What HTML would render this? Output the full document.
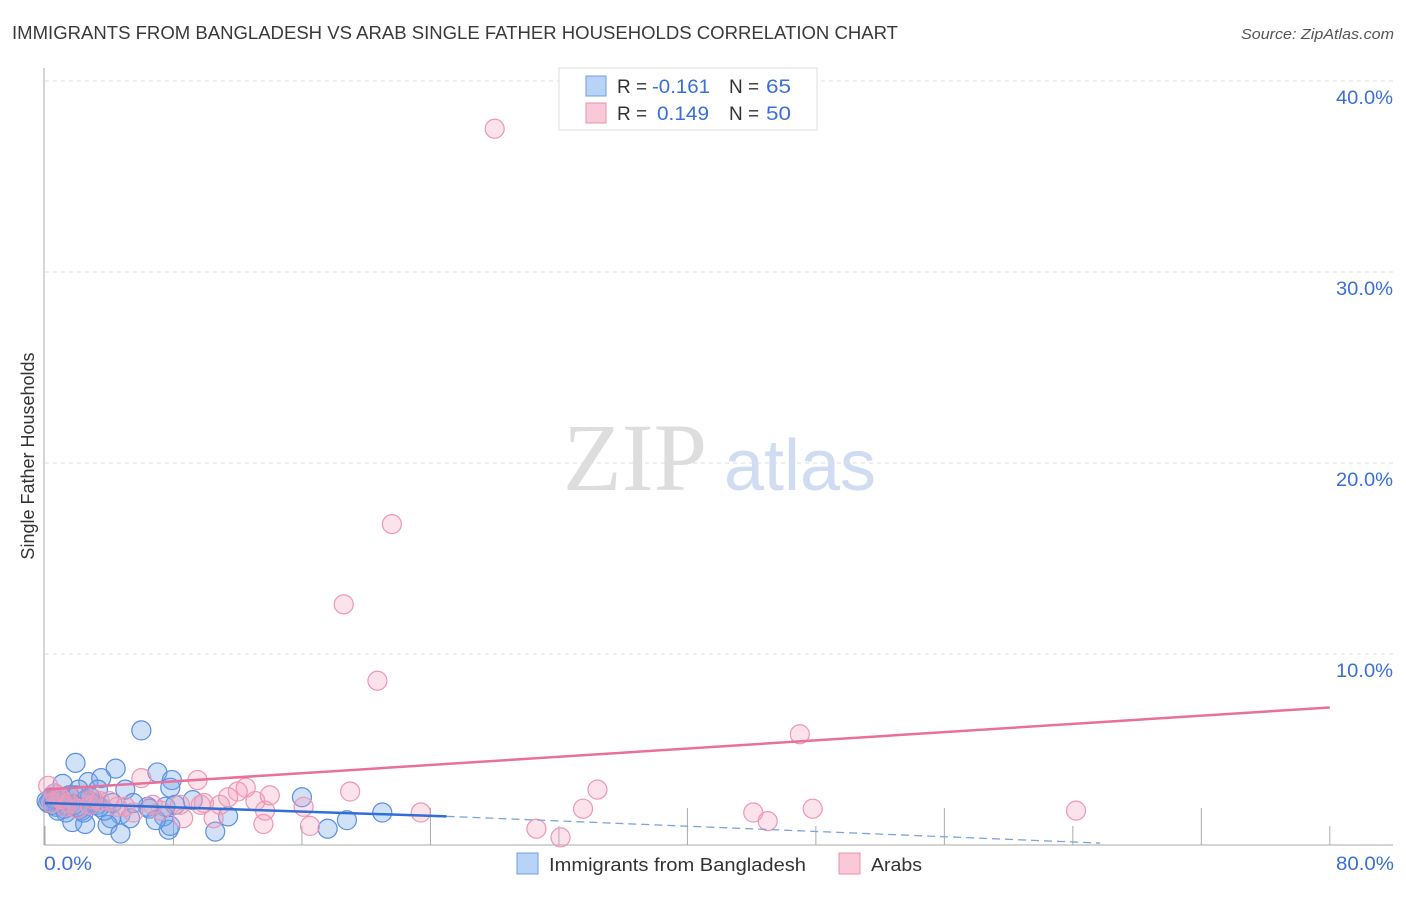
<!DOCTYPE html>
<html><head><meta charset="utf-8"><style>
body{margin:0;background:#fff;font-family:"Liberation Sans",sans-serif}
</style></head><body>
<svg width="1406" height="892" xmlns="http://www.w3.org/2000/svg" id="chart">
<text x="12" y="39" font-size="18" fill="#3a3a3a" textLength="886" lengthAdjust="spacingAndGlyphs">IMMIGRANTS FROM BANGLADESH VS ARAB SINGLE FATHER HOUSEHOLDS CORRELATION CHART</text>
<text x="1241" y="39" font-size="14.5" fill="#555" textLength="153" lengthAdjust="spacingAndGlyphs" font-style="italic">Source: ZipAtlas.com</text>
<text x="635" y="490" font-size="96" fill="#ddd" font-family="Liberation Serif,serif" text-anchor="middle">ZIP</text>
<text x="800" y="490" font-size="72" fill="#cfdcf2" text-anchor="middle">atlas</text>
<text transform="translate(34,456) rotate(-90)" font-size="18" fill="#333" text-anchor="middle">Single Father Households</text>
<g id="grid"></g><g id="pts"></g><g id="trend"></g>
<g>
<rect x="559" y="68" width="258" height="62" fill="#fff" stroke="#ddd"/>
<rect x="586" y="76" width="20" height="20" fill="#b9d3f7" stroke="#6d9ee8"/>
<rect x="586" y="103" width="20" height="20" fill="#f9c9d8" stroke="#ec8fab"/>
<text x="617" y="93" font-size="19" fill="#333">R =</text>
<text x="652" y="93" font-size="19" fill="#3a6fd8" textLength="58" lengthAdjust="spacingAndGlyphs">-0.161</text>
<text x="729" y="93" font-size="19" fill="#333">N =</text>
<text x="766" y="93" font-size="19" fill="#3a6fd8" textLength="25" lengthAdjust="spacingAndGlyphs">65</text>
<text x="617" y="120" font-size="19" fill="#333">R =</text>
<text x="657" y="120" font-size="19" fill="#3a6fd8" textLength="52" lengthAdjust="spacingAndGlyphs">0.149</text>
<text x="729" y="120" font-size="19" fill="#333">N =</text>
<text x="766" y="120" font-size="19" fill="#3a6fd8" textLength="25" lengthAdjust="spacingAndGlyphs">50</text>
</g>
<g>
<rect x="517" y="853" width="21" height="21" fill="#b9d3f7" stroke="#6d9ee8"/>
<text x="549" y="871" font-size="18.5" fill="#333" textLength="257" lengthAdjust="spacingAndGlyphs">Immigrants from Bangladesh</text>
<rect x="839" y="853" width="21" height="21" fill="#f9c9d8" stroke="#ec8fab"/>
<text x="871" y="871" font-size="18.5" fill="#333" textLength="51" lengthAdjust="spacingAndGlyphs">Arabs</text>
</g>
<text x="44" y="870" font-size="19" fill="#3a6fd8" textLength="48" lengthAdjust="spacingAndGlyphs">0.0%</text>
<text x="1336" y="870" font-size="19" fill="#3a6fd8" textLength="58" lengthAdjust="spacingAndGlyphs">80.0%</text>
</svg>
<script>
const yTicks=[10,20,30,40];
const yTickLabels=["10.0%","20.0%","30.0%","40.0%"];
const xTicks=[0,8,16,24,32,40,48,56,64,72,80];
const blueX=[6.0,1.9,4.4,7.0,7.9,2.7,3.5,1.1,2.1,3.3,5.0,7.8,16.0,9.2,6.4,7.5,8.1,4.7,4.1,5.3,1.7,2.5,3.9,4.7,7.7,10.6,11.4,17.6,18.8,21.0,0.6,0.3,0.7,1.2,1.6,0.9,2.9,2.3,1.3,3.2,3.7,5.5,6.5,7.4,7.8,0.2,0.4,1.0,1.4,1.9,2.2,2.6,3.0,3.4,0.5,0.8,1.5,2.0,2.4,2.8,0.1,1.8,4.2,6.9,0.6];
const blueY=[6.0,4.3,4.0,3.8,3.4,3.3,3.5,3.2,2.9,2.9,2.9,3.0,2.5,2.35,2.0,2.0,2.1,1.6,1.4,1.4,1.2,1.1,1.05,0.6,0.8,0.7,1.5,0.85,1.3,1.7,2.7,2.3,2.0,1.9,2.2,2.4,2.1,1.8,1.7,2.1,1.8,2.2,1.9,1.5,1.0,2.2,2.5,2.3,2.0,2.6,1.9,2.4,2.2,2.0,2.1,1.8,2.6,2.0,1.7,2.5,2.3,2.1,2.2,1.3,2.4];
const pinkX=[28.0,21.6,18.6,20.7,47.0,34.4,19.0,12.5,12.0,11.4,9.5,6.0,33.5,44.1,47.8,64.2,45.0,23.4,30.6,32.1,16.5,16.1,13.6,13.7,10.5,9.7,8.4,8.6,7.2,5.5,4.5,3.4,2.8,1.5,0.6,0.2,0.4,1.0,2.0,2.4,4.0,5.0,6.7,9.9,10.9,13.1,14.0,1.3,3.0,0.9];
const pinkY=[37.5,16.8,12.6,8.6,5.8,2.9,2.8,3.0,2.8,2.5,3.4,3.5,1.9,1.7,1.9,1.8,1.25,1.7,0.85,0.4,1.0,2.0,1.1,1.8,1.4,2.1,2.1,1.4,1.8,1.7,2.0,2.3,2.1,2.2,2.7,3.1,2.2,2.4,1.9,2.6,2.3,2.0,2.1,2.2,2.1,2.3,2.6,2.0,2.4,2.5];
const pinkTrend=[0,2.9,80,7.2];
const blueTrend=[0,2.2,25,1.5,65.7,0.1];
const X=v=>45+v*16.06, Y=v=>845-v*19.1;
const NS="http://www.w3.org/2000/svg";
function mk(t,a,p){const e=document.createElementNS(NS,t);for(const k in a)e.setAttribute(k,a[k]);p.appendChild(e);return e;}
const grid=document.getElementById('grid');
yTicks.forEach((t,i)=>{
 const l=mk('line',{x1:45,x2:1393,y1:Y(t),y2:Y(t),stroke:'#ddd','stroke-dasharray':'4,4'},grid);
 
 
 const tx=mk('text',{x:1336,y:Y(t)+23,'font-size':19,fill:'#3a6fd8',textLength:57,lengthAdjust:'spacingAndGlyphs'},grid);
 tx.textContent=yTickLabels[i];
 
 
});
const ax=mk('line',{x1:44,x2:44,y1:68,y2:845,stroke:'#aaa'},grid);


const bx=mk('line',{x1:44,x2:1393,y1:845,y2:845,stroke:'#aaa'},grid);


xTicks.forEach((t,i)=>{
 const l=mk('line',{x1:X(t),x2:X(t),y1:i%2?808:826,y2:845,stroke:'#aaa'},grid);
 
 
});
const pts=document.getElementById('pts');
blueX.forEach((v,i)=>{
 const c=mk('circle',{cx:X(v),cy:Y(blueY[i]),r:9.5,fill:'rgba(120,170,235,0.35)',stroke:'#5b8fe0','stroke-width':1.2},pts);
 
 
});
pinkX.forEach((v,i)=>{
 const c=mk('circle',{cx:X(v),cy:Y(pinkY[i]),r:9.5,fill:'rgba(245,160,190,0.3)',stroke:'#ee97b3','stroke-width':1.2},pts);
 
 
});
const tr=document.getElementById('trend');
const pl=mk('line',{x1:X(pinkTrend[0]),y1:Y(pinkTrend[1]),x2:X(pinkTrend[2]),y2:Y(pinkTrend[3]),stroke:'#e8709a','stroke-width':2.5},tr);


const bl=mk('line',{x1:X(blueTrend[0]),y1:Y(blueTrend[1]),x2:X(blueTrend[2]),y2:Y(blueTrend[3]),stroke:'#2f6fd6','stroke-width':2.5},tr);


const bd=mk('line',{x1:X(blueTrend[2]),y1:Y(blueTrend[3]),x2:X(blueTrend[4]),y2:Y(blueTrend[5]),stroke:'#7fa3dc','stroke-width':1.3,'stroke-dasharray':'8,5'},tr);


</script>
</body></html>
